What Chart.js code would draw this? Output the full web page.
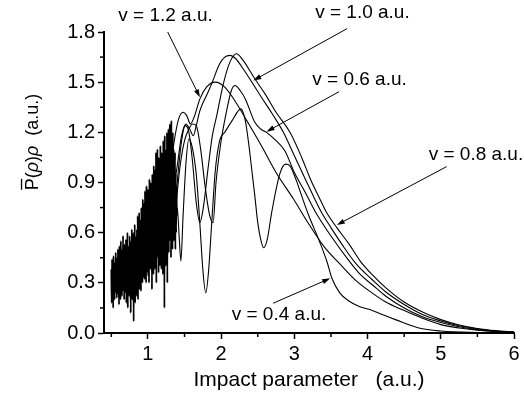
<!DOCTYPE html>
<html><head><meta charset="utf-8">
<script src="https://cdn.jsdelivr.net/npm/chart.js@4/dist/chart.umd.min.js"></script>
<style>html,body{margin:0;padding:0;background:#fff;}canvas{display:block;}</style>
</head><body>
<canvas id="c" width="524" height="401"></canvas>
<script>
// ---- axes ----
const xTicks = [1, 2, 3, 4, 5, 6];
const yTicks = [0, 0.3, 0.6, 0.9, 1.2, 1.5, 1.8];
const xMinorTicks = [0.5, 1.5, 2.5, 3.5, 4.5, 5.5];
const yMinorTicks = [0.15, 0.45, 0.75, 1.05, 1.35, 1.65];

// ---- v = 0.4 a.u. : densely oscillating part, sampled every 0.005 from 0.5 ----
const noiseStart = 0.5, noiseStep = 0.005;
const v04Noise = [
 0.38,0.18,0.44,0.22,0.40,0.15,0.46,0.28,0.35,0.20,
 0.42,0.24,0.48,0.30,0.39,0.21,0.45,0.26,0.50,0.23,
 0.41,0.17,0.52,0.27,0.44,0.20,0.55,0.31,0.38,0.22,
 0.50,0.25,0.58,0.29,0.46,0.20,0.53,0.33,0.47,0.24,
 0.56,0.18,0.49,0.30,0.60,0.15,0.52,0.28,0.45,0.22,
 0.58,0.26,0.50,0.12,0.55,0.30,0.62,0.20,0.48,0.27,
 0.60,0.07,0.54,0.25,0.65,0.18,0.50,0.32,0.58,0.22,
 0.62,0.28,0.70,0.20,0.55,0.35,0.72,0.26,0.60,0.30,
 0.68,0.25,0.75,0.38,0.62,0.30,0.80,0.33,0.70,0.40,
 0.78,0.32,0.85,0.42,0.70,0.30,0.88,0.45,0.76,0.36,
 0.86,0.34,0.80,0.30,0.92,0.44,0.75,0.38,0.90,0.47,
 0.82,0.26,0.95,0.40,0.78,0.35,1.00,0.48,0.85,0.38,
 0.98,0.42,1.08,0.30,0.90,0.50,1.10,0.45,0.95,0.36,
 1.05,0.48,0.92,0.40,1.12,0.52,1.00,0.38,1.08,0.55,
 0.95,0.35,1.15,0.50,1.02,0.15,1.18,0.45,0.98,0.40,
 1.10,0.52,1.20,0.30,1.05,0.58,1.22,0.48,1.12,0.55,
 1.25,0.60,1.15,0.45,1.27,0.62,1.05,0.50,1.20,0.65,
 1.10,0.55,1.00,0.62,1.08,0.50,0.95,0.60,0.88,0.70,
 0.75
];
const v04X = [1.43,1.45,1.48,1.52,1.56,1.60,1.66,1.71,1.75,1.79,1.83,1.87,1.92,1.98,2.05,2.15,2.27,2.33,2.38,2.42,2.46,2.50,2.54,2.58,2.63,2.69,2.80,2.88,2.94,3.02,3.10,3.19,3.35,3.45,3.51,3.62,3.75,3.88,4.03,4.20,4.38,4.70,5.00,5.50,6.00];
const v04Y = [0.55,0.43,0.70,1.02,1.16,1.12,0.95,0.65,0.38,0.24,0.38,0.65,0.97,1.15,1.20,1.27,1.34,1.27,1.12,0.97,0.82,0.66,0.56,0.51,0.56,0.72,0.95,1.01,1.00,0.92,0.82,0.71,0.54,0.42,0.33,0.24,0.19,0.16,0.14,0.11,0.08,0.03,0.012,0.003,0.0];

const v06X = [1.34,1.39,1.44,1.50,1.56,1.61,1.66,1.72,1.78,1.84,1.89,1.93,2.00,2.08,2.14,2.19,2.26,2.33,2.46,2.54,2.62,2.75,2.87,3.00,3.15,3.28,3.50,3.75,3.90,4.06,4.25,4.50,4.75,5.00,5.25,5.50,5.75,6.00];
const v06Y = [0.62,0.80,1.00,1.15,1.22,1.25,1.24,1.10,0.88,0.71,0.66,0.90,1.15,1.34,1.45,1.48,1.45,1.40,1.26,1.22,1.20,1.15,1.09,0.96,0.84,0.73,0.58,0.43,0.35,0.29,0.22,0.15,0.097,0.063,0.037,0.02,0.01,0.004];

const v08X = [1.36,1.41,1.46,1.51,1.56,1.61,1.66,1.71,1.76,1.82,1.88,1.94,2.03,2.12,2.21,2.30,2.46,2.60,2.75,2.94,3.10,3.22,3.35,3.44,3.58,3.75,3.90,4.06,4.25,4.50,4.75,5.00,5.25,5.50,5.75,6.00];
const v08Y = [0.70,0.95,1.15,1.24,1.20,1.02,0.78,0.66,0.76,0.98,1.18,1.30,1.49,1.62,1.67,1.63,1.52,1.43,1.32,1.20,1.05,0.92,0.80,0.72,0.63,0.53,0.43,0.35,0.27,0.185,0.125,0.08,0.048,0.027,0.014,0.006];

const v10X = [1.35,1.40,1.46,1.52,1.57,1.62,1.66,1.71,1.80,1.87,1.98,2.05,2.12,2.20,2.30,2.39,2.55,2.70,2.85,3.00,3.15,3.28,3.36,3.50,3.65,3.85,4.06,4.25,4.50,4.75,5.00,5.25,5.50,5.75,6.00];
const v10Y = [0.85,1.00,1.18,1.25,1.22,1.18,1.24,1.33,1.42,1.49,1.61,1.65,1.66,1.64,1.58,1.52,1.41,1.31,1.20,1.06,0.92,0.80,0.73,0.63,0.53,0.41,0.32,0.245,0.17,0.11,0.072,0.043,0.024,0.012,0.005];

const v12X = [1.30,1.36,1.42,1.48,1.53,1.58,1.63,1.71,1.80,1.92,2.05,2.20,2.35,2.55,2.75,2.99,3.20,3.40,3.65,3.85,4.06,4.25,4.47,4.75,5.00,5.25,5.50,5.75,6.00];
const v12Y = [0.95,1.15,1.28,1.32,1.30,1.25,1.29,1.40,1.47,1.50,1.47,1.38,1.27,1.12,0.96,0.80,0.65,0.52,0.40,0.31,0.24,0.185,0.14,0.088,0.05,0.03,0.017,0.009,0.004];

// ---- annotations (data coordinates) ----
const labelText = ['v = 1.2 a.u.', 'v = 1.0 a.u.', 'v = 0.6 a.u.', 'v = 0.8 a.u.', 'v = 0.4 a.u.'];
const labelX = [1.24, 3.93, 3.89, 5.48, 2.79];
const labelY = [1.90, 1.914, 1.513, 1.065, 0.108];
const arrowFromX = [1.27, 3.72, 3.61, 5.08, 2.71];
const arrowFromY = [1.80, 1.82, 1.443, 0.995, 0.178];
const arrowToX = [1.71, 2.44, 2.62, 3.58, 3.49];
const arrowToY = [1.41, 1.51, 1.204, 0.646, 0.327];

const FONT = '"Liberation Sans", Arial, Helvetica, sans-serif';
const noiseEnd = 1.4;

function pts(xs, ys) { return xs.map((x, i) => ({x: x, y: ys[i]})); }
const v04Pts = v04Noise.map((y, i) => ({x: noiseStart + i * noiseStep, y: y})).concat(pts(v04X, v04Y));

function ds(label, data) {
  return {label, data, borderColor: '#000', borderWidth: 1.1, pointRadius: 0, fill: false,
          cubicInterpolationMode: 'monotone'};
}

const decor = {
  id: 'decor',
  afterDraw(chart) {
    const ctx = chart.ctx, xs = chart.scales.x, ys = chart.scales.y, ca = chart.chartArea;
    ctx.save();
    ctx.strokeStyle = '#000'; ctx.fillStyle = '#000';
    ctx.lineWidth = 1.5;
    xMinorTicks.forEach(v => { const p = xs.getPixelForValue(v);
      ctx.beginPath(); ctx.moveTo(p, ca.bottom); ctx.lineTo(p, ca.bottom + 4); ctx.stroke(); });
    yMinorTicks.forEach(v => { const p = ys.getPixelForValue(v);
      ctx.beginPath(); ctx.moveTo(ca.left, p); ctx.lineTo(ca.left - 4, p); ctx.stroke(); });

    ctx.font = '19px ' + FONT; ctx.textAlign = 'center'; ctx.textBaseline = 'middle';
    labelText.forEach((t, i) => ctx.fillText(t, xs.getPixelForValue(labelX[i]), ys.getPixelForValue(labelY[i])));

    ctx.lineWidth = 1;
    labelText.forEach((t, i) => {
      const x0 = xs.getPixelForValue(arrowFromX[i]), y0 = ys.getPixelForValue(arrowFromY[i]);
      const x1 = xs.getPixelForValue(arrowToX[i]), y1 = ys.getPixelForValue(arrowToY[i]);
      const a = Math.atan2(y1 - y0, x1 - x0), L = 8, W = 2.6;
      ctx.beginPath(); ctx.moveTo(x0, y0); ctx.lineTo(x1 - L * Math.cos(a) * 0.6, y1 - L * Math.sin(a) * 0.6); ctx.stroke();
      ctx.beginPath(); ctx.moveTo(x1, y1);
      ctx.lineTo(x1 - L * Math.cos(a) - W * Math.sin(a), y1 - L * Math.sin(a) + W * Math.cos(a));
      ctx.lineTo(x1 - L * Math.cos(a) + W * Math.sin(a), y1 - L * Math.sin(a) - W * Math.cos(a));
      ctx.closePath(); ctx.fill();
    });

    // y-axis title
    ctx.save();
    ctx.translate(31, 142); ctx.rotate(-Math.PI / 2);
    const f = 18;
    const parts = [['P', ''], ['(', ''], ['\u03C1', 'italic '], [')', ''], ['\u03C1', 'italic '], ['  (a.u.)', '']];
    let total = 0;
    const w = parts.map(p => { ctx.font = p[1] + f + 'px ' + FONT; const m = ctx.measureText(p[0]).width; total += m; return m; });
    let x = -total / 2;
    ctx.textAlign = 'left'; ctx.textBaseline = 'alphabetic';
    parts.forEach((p, i) => { ctx.font = p[1] + f + 'px ' + FONT; ctx.fillText(p[0], x, 6.5); x += w[i]; });
    ctx.lineWidth = 1.3;
    ctx.beginPath(); ctx.moveTo(-total / 2 + 0.5, 6.5 - 0.72 * f - 3); ctx.lineTo(-total / 2 + w[0] - 0.5, 6.5 - 0.72 * f - 3); ctx.stroke();
    ctx.restore();

    ctx.restore();
  }
};

const d04 = ds('v = 0.4 a.u.', v04Pts);
d04.segment = {borderWidth: c => (c.p1.parsed.x <= noiseEnd ? 1.8 : 1.1)};

new Chart(document.getElementById('c'), {
  type: 'line',
  data: {
    datasets: [
      d04,
      ds('v = 0.6 a.u.', pts(v06X, v06Y)),
      ds('v = 0.8 a.u.', pts(v08X, v08Y)),
      ds('v = 1.0 a.u.', pts(v10X, v10Y)),
      ds('v = 1.2 a.u.', pts(v12X, v12Y))
    ]
  },
  options: {
    responsive: false, animation: false, devicePixelRatio: 1,
    layout: {padding: {top: 32, right: 10, left: 0, bottom: 0}},
    plugins: {legend: {display: false}, tooltip: {enabled: false}},
    scales: {
      x: {
        type: 'linear', min: 0.4, max: 6,
        afterBuildTicks: s => { s.ticks = xTicks.map(v => ({value: v})); },
        afterFit: s => { s.height = 68; },
        ticks: {color: '#000', font: {family: FONT, size: 20}, padding: 3, maxRotation: 0,
                callback: v => String(v)},
        grid: {drawOnChartArea: false, drawTicks: true, tickLength: 6, tickWidth: 1.5, tickColor: '#000'},
        border: {display: true, color: '#000', width: 2},
        title: {display: true, text: 'Impact parameter   (a.u.)', color: '#000',
                font: {family: FONT, size: 21}, padding: {top: 0, bottom: 8}}
      },
      y: {
        type: 'linear', min: 0, max: 1.8,
        afterBuildTicks: s => { s.ticks = yTicks.map(v => ({value: v})); },
        afterFit: s => { s.width = 104; },
        ticks: {color: '#000', font: {family: FONT, size: 20}, padding: 3,
                callback: v => Number(v).toFixed(1)},
        grid: {drawOnChartArea: false, drawTicks: true, tickLength: 6, tickWidth: 1.5, tickColor: '#000'},
        border: {display: true, color: '#000', width: 2}
      }
    }
  },
  plugins: [decor]
});
</script>
</body></html>
